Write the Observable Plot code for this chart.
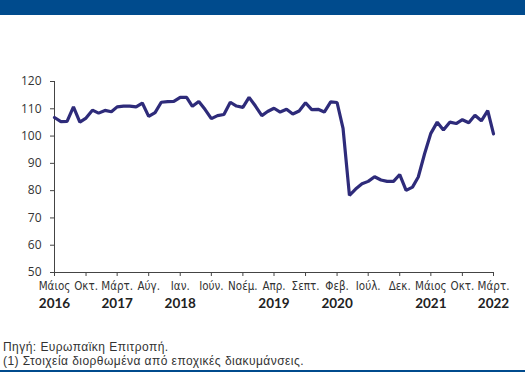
<!DOCTYPE html>
<html>
<head>
<meta charset="utf-8">
<script src="https://cdn.jsdelivr.net/npm/d3@7"></script>
<script src="https://cdn.jsdelivr.net/npm/@observablehq/plot@0.6"></script>
<style>
  html, body { margin: 0; padding: 0; background: #fff; }
  body { width: 525px; height: 372px; position: relative; overflow: hidden; font-family: "Open Sans", sans-serif; }
  #band { position: absolute; left: 0; top: 0; width: 525px; height: 15px; background: #004b8d; }
  #chart { position: absolute; left: 0; top: 15px; }
  #footer { position: absolute; left: 3px; top: 340px; font-family: "Liberation Sans", Arial, sans-serif; font-size: 12px; line-height: 14px; letter-spacing: 0.45px; color: #333; }
  #footer div { height: 14px; white-space: nowrap; }
  #bottom { position: absolute; left: 0; top: 370px; width: 525px; height: 2px; background: #004b8d; }
</style>
</head>
<body>
<div id="band"></div>
<div id="chart"></div>
<div id="footer"><div>Πηγή: Ευρωπαϊκη Επιτροπή.</div><div>(1) Στοιχεία διορθωμένα από εποχικές διακυμάνσεις.</div></div>
<div id="bottom"></div>
<script>
// Monthly values, May 2016 – March 2022
const startMonth = "2016-05-01";
const values = [
  106.8, 105.3, 105.4, 110.7, 105.1, 106.6, 109.5, 108.4,                      // 2016 May–Dec
  109.4, 108.9, 110.7, 111.0, 111.0, 110.7, 112.1, 107.2, 108.6, 112.4, 112.6, 112.7, // 2017
  114.2, 114.2, 110.9, 112.7, 109.8, 106.4, 107.5, 107.9, 112.4, 111.0, 110.5, 114.2, // 2018
  111.0, 107.5, 109.0, 110.2, 108.8, 109.8, 108.1, 109.2, 112.2, 109.7, 109.8, 108.8, // 2019
  112.5, 112.3, 102.8, 78.3, 80.6, 82.5, 83.4, 85.1, 83.9, 83.4, 83.4, 85.9,         // 2020
  80.1, 81.3, 85.0, 93.6, 101.0, 105.1, 102.2, 105.1, 104.6, 106.0, 104.9, 107.6,    // 2021
  105.6, 109.3, 100.8                                                                 // 2022 Jan–Mar
];
const tickMonthLabels = ["Μάιος","Οκτ.","Μάρτ.","Αύγ.","Ιαν.","Ιούν.","Νοέμ.","Απρ.","Σεπτ.","Φεβ.","Ιούλ.","Δεκ.","Μάιος","Οκτ.","Μάρτ."];
const tickDateStrings = ["2016-05-01","2016-10-01","2017-03-01","2017-08-01","2018-01-01","2018-06-01","2018-11-01","2019-04-01","2019-09-01","2020-02-01","2020-07-01","2020-12-01","2021-05-01","2021-10-01","2022-03-01"];
const yearLabels = ["2016","2017","2018","2019","2020","2021","2022"];
const yearDateStrings = ["2016-05-01","2017-03-01","2018-01-01","2019-04-01","2020-02-01","2021-05-01","2022-03-01"];
const yTicks = [50, 60, 70, 80, 90, 100, 110, 120];

const start = new Date(startMonth + "T00:00:00Z");
const data = values.map((v, i) => ({date: d3.utcMonth.offset(start, i), value: v}));
const tickDates = tickDateStrings.map(s => new Date(s + "T00:00:00Z"));
const years = yearLabels.map((label, i) => ({date: new Date(yearDateStrings[i] + "T00:00:00Z"), label}));
const labelOf = new Map(tickDates.map((d, i) => [+d, tickMonthLabels[i]]));
const x0 = data[0].date, x1 = data[data.length - 1].date;

const condensed = "'Liberation Sans Narrow', 'DejaVu Sans Condensed', 'Roboto Condensed', Roboto, sans-serif";

const plot = Plot.plot({
  width: 525,
  height: 310,
  marginTop: 66,
  marginBottom: 53,
  marginLeft: 54,
  marginRight: 32,
  style: {fontFamily: "'Open Sans', sans-serif", color: "#333", background: "transparent"},
  x: {type: "utc", domain: [x0, x1]},
  y: {domain: [50, 120]},
  marks: [
    Plot.axisY({ticks: yTicks, tickSize: 4, tickPadding: 9, fontSize: 12, label: null, stroke: "#444"}),
    Plot.axisX({ticks: tickDates, tickSize: 4, tickPadding: 5, fontSize: 11.5, label: null,
      tickFormat: d => labelOf.get(+d), fontFamily: condensed, stroke: "#444"}),
    Plot.ruleX([x0], {y1: 50, y2: 120, stroke: "#444"}),
    Plot.ruleY([50], {x1: x0, x2: x1, stroke: "#444"}),
    Plot.text(years, {x: "date", text: "label", frameAnchor: "bottom", lineAnchor: "middle", dy: 31,
      fontWeight: "bold", fontSize: 13.5, fontFamily: "Lato, 'Open Sans', sans-serif", fill: "#222"}),
    Plot.line(data, {x: "date", y: "value", stroke: "#2e2b7a", strokeWidth: 3.2, strokeLinejoin: "miter", curve: "linear"})
  ]
});
document.getElementById("chart").appendChild(plot);
</script>
</body>
</html>
